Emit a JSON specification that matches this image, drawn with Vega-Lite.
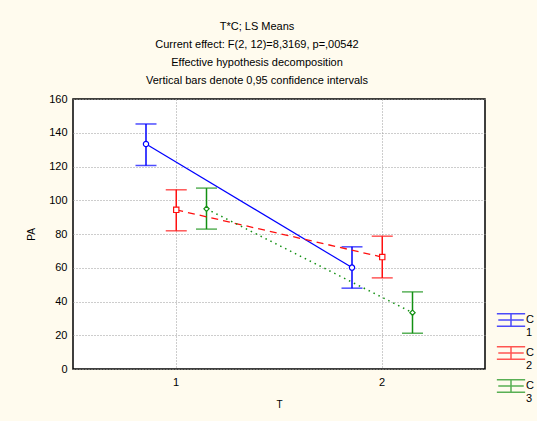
{
  "$schema": "https://vega.github.io/schema/vega-lite/v6.json",
  "autosize": {"type": "none"},
  "width": 412,
  "height": 270,
  "padding": {"left": 73, "top": 99, "right": 52, "bottom": 52},
  "background": "#fffbee",
  "config": {
    "view": {"stroke": "#000000", "strokeWidth": 1.5, "fill": "#ffffff"},
    "font": "Liberation Sans",
    "axisY": {
      "grid": true,
      "gridDash": [1, 2],
      "gridColor": "#9a9a9a",
      "domain": false,
      "ticks": false,
      "labelFontSize": 11,
      "labelColor": "#000000",
      "labelPadding": 6,
      "titleFontSize": 10,
      "titleFontWeight": "normal",
      "titleColor": "#000000",
      "titlePadding": 12
    }
  },
  "title": {
    "text": ["T*C; LS Means", "Current effect: F(2, 12)=8,3169, p=,00542", "Effective hypothesis decomposition", "Vertical bars denote 0,95 confidence intervals"],
    "fontSize": 11,
    "font": "Liberation Sans",
    "fontWeight": "normal",
    "lineHeight": 18.3,
    "offset": 6.5,
    "dx": -22,
    "anchor": "middle",
    "frame": "group",
    "color": "#000000"
  },
  "data": {
    "values": [
      {"C": "1", "T": "1", "mean": 133.3, "lower": 120.6, "upper": 145.2},
      {"C": "2", "T": "1", "mean": 94.3, "lower": 81.9, "upper": 106.2},
      {"C": "3", "T": "1", "mean": 94.9, "lower": 82.9, "upper": 107.2},
      {"C": "1", "T": "2", "mean": 60.1, "lower": 47.9, "upper": 72.4},
      {"C": "2", "T": "2", "mean": 66.3, "lower": 54.0, "upper": 78.7},
      {"C": "3", "T": "2", "mean": 33.4, "lower": 21.2, "upper": 45.7}
    ]
  },
  "encoding": {
    "x": {
      "field": "T",
      "type": "ordinal",
      "title": "T",
      "scale": {"type": "band", "domain": ["1", "2"], "paddingInner": 0, "paddingOuter": 0},
      "axis": {
        "labelAngle": 0,
        "grid": true,
        "bandPosition": 0.5,
        "gridDash": [1, 2],
        "gridColor": "#9a9a9a",
        "domain": false,
        "ticks": false,
        "labelFontSize": 11,
        "labelColor": "#000000",
        "labelPadding": 7,
        "titleFontSize": 10,
        "titleFontWeight": "normal",
        "titleColor": "#000000",
        "titlePadding": 12
      }
    },
    "xOffset": {
      "field": "C",
      "type": "nominal",
      "scale": {"type": "point", "domain": ["1", "2", "3"], "range": [73, 133.5], "padding": 0}
    }
  },
  "layer": [
    {
      "mark": {"type": "rule", "strokeWidth": 1.5},
      "encoding": {
        "y": {
          "field": "lower",
          "type": "quantitative",
          "title": "PA",
          "scale": {"domain": [0, 160], "nice": false},
          "axis": {"values": [0, 20, 40, 60, 80, 100, 120, 140, 160]}
        },
        "y2": {"field": "upper"},
        "color": {
          "field": "C",
          "type": "nominal",
          "scale": {"domain": ["1", "2", "3"], "range": ["#0000ff", "#ff1010", "#139013"]},
          "legend": {
            "orient": "none",
            "legendX": 423,
            "legendY": 206,
            "title": null,
            "padding": 0,
            "symbolType": "M-1,-0.45H1M0,-0.45V0.45M-1,0.45H1M-0.9,0H0.9",
            "symbolSize": 800,
            "symbolStrokeWidth": 1.5,
            "symbolFillColor": "transparent",
            "labelExpr": "['C', datum.label]",
            "labelFontSize": 11,
            "labelColor": "#000000",
            "labelOffset": 0,
            "rowPadding": 0
          }
        }
      }
    },
    {
      "mark": {"type": "tick", "orient": "horizontal", "size": 21, "thickness": 1.5},
      "encoding": {
        "y": {"field": "upper", "type": "quantitative", "title": "PA", "axis": {"values": [0, 20, 40, 60, 80, 100, 120, 140, 160]}},
        "color": {"field": "C", "type": "nominal"}
      }
    },
    {
      "mark": {"type": "tick", "orient": "horizontal", "size": 21, "thickness": 1.5},
      "encoding": {
        "y": {"field": "lower", "type": "quantitative", "title": "PA", "axis": {"values": [0, 20, 40, 60, 80, 100, 120, 140, 160]}},
        "color": {"field": "C", "type": "nominal"}
      }
    },
    {
      "transform": [{"filter": "datum.C == '1'"}],
      "mark": {"type": "line", "strokeWidth": 1.2, "color": "#0000ff"},
      "encoding": {
        "y": {"field": "mean", "type": "quantitative", "title": "PA", "axis": {"values": [0, 20, 40, 60, 80, 100, 120, 140, 160]}}
      }
    },
    {
      "transform": [{"filter": "datum.C == '2'"}],
      "mark": {"type": "line", "strokeWidth": 1.3, "color": "#ff1010", "strokeDash": [7, 5]},
      "encoding": {
        "y": {"field": "mean", "type": "quantitative", "title": "PA", "axis": {"values": [0, 20, 40, 60, 80, 100, 120, 140, 160]}}
      }
    },
    {
      "transform": [{"filter": "datum.C == '3'"}],
      "mark": {"type": "line", "strokeWidth": 1.5, "color": "#139013", "strokeDash": [1.5, 4]},
      "encoding": {
        "y": {"field": "mean", "type": "quantitative", "title": "PA", "axis": {"values": [0, 20, 40, 60, 80, 100, 120, 140, 160]}}
      }
    },
    {
      "transform": [{"filter": "datum.C == '1'"}],
      "mark": {"type": "point", "shape": "circle", "filled": false, "fill": "#ffffff", "color": "#0000ff", "strokeWidth": 1.2, "size": 28, "opacity": 1},
      "encoding": {
        "y": {"field": "mean", "type": "quantitative", "title": "PA", "axis": {"values": [0, 20, 40, 60, 80, 100, 120, 140, 160]}}
      }
    },
    {
      "transform": [{"filter": "datum.C == '2'"}],
      "mark": {"type": "point", "shape": "square", "filled": false, "fill": "#ffffff", "color": "#ff1010", "strokeWidth": 1.2, "size": 28, "opacity": 1},
      "encoding": {
        "y": {"field": "mean", "type": "quantitative", "title": "PA", "axis": {"values": [0, 20, 40, 60, 80, 100, 120, 140, 160]}}
      }
    },
    {
      "transform": [{"filter": "datum.C == '3'"}],
      "mark": {"type": "point", "shape": "diamond", "filled": false, "fill": "#ffffff", "color": "#139013", "strokeWidth": 1.2, "size": 28, "opacity": 1},
      "encoding": {
        "y": {"field": "mean", "type": "quantitative", "title": "PA", "axis": {"values": [0, 20, 40, 60, 80, 100, 120, 140, 160]}}
      }
    }
  ]
}
